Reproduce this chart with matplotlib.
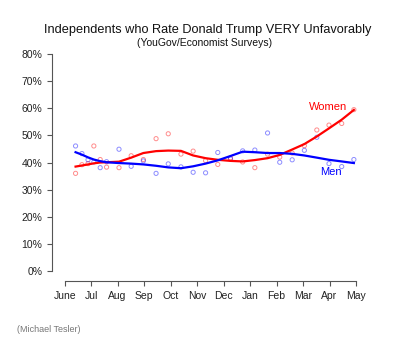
import matplotlib
matplotlib.use("Agg")
import matplotlib.pyplot as plt

plt.rcParams['font.family'] = ['Liberation Sans', 'DejaVu Sans']

months = ["June", "Jul", "Aug", "Sep", "Oct", "Nov", "Dec", "Jan", "Feb", "Mar", "Apr", "May"]

# poll dates, in months since June 1
poll_t = [0.41, 0.65, 0.88, 1.10, 1.34, 1.58, 2.05, 2.51, 2.97, 3.45, 3.91, 4.39, 4.85,
          5.32, 5.78, 6.26, 6.72, 7.18, 7.66, 8.12, 8.59, 9.05, 9.52, 9.98, 10.46, 10.92]

women = [36.0, 39.2, 39.6, 46.1, 41.1, 38.3, 38.1, 42.5, 41.1, 48.8, 50.6, 43.1, 44.2,
         40.7, 39.3, 41.7, 40.2, 38.1, 43.1, 42.0, 43.5, 46.2, 52.0, 53.8, 54.4, 59.5]
men = [46.1, 43.3, 41.0, 40.2, 38.1, 40.3, 44.9, 38.6, 40.6, 36.0, 39.5, 38.4, 36.4,
       36.2, 43.7, 41.3, 44.3, 44.6, 50.9, 40.1, 41.0, 44.5, 49.3, 39.6, 38.5, 41.1]

# smoothed trend lines
women_fit = [38.5, 38.9, 39.3, 39.7, 40.0, 40.1, 40.3, 41.8, 43.5, 44.2, 44.4, 44.3, 42.6,
             41.6, 41.0, 40.6, 40.4, 40.9, 41.6, 42.8, 44.8, 46.8, 49.6, 52.6, 55.8, 59.4]
men_fit = [43.8, 42.9, 41.9, 41.1, 40.5, 40.1, 39.8, 39.6, 39.3, 38.8, 38.2, 37.9, 38.6,
           39.6, 40.8, 42.4, 44.0, 43.8, 43.5, 43.5, 43.2, 42.6, 41.8, 41.0, 40.4, 39.8]

yticks = [0, 10, 20, 30, 40, 50, 60, 70, 80]

fig = plt.figure(figsize=(4.0, 3.46), dpi=100)
ax = fig.add_axes([52/400, 65/346, (365-52)/400, (281-50)/346])

red = "#ff0000"
blue = "#0000ff"

ax.scatter(poll_t, women, s=9, facecolors="none", edgecolors=red, linewidths=0.7, alpha=0.45, zorder=2)
ax.scatter(poll_t, men, s=9, facecolors="none", edgecolors=blue, linewidths=0.7, alpha=0.45, zorder=2)
ax.plot(poll_t, women_fit, color=red, lw=1.6, zorder=3)
ax.plot(poll_t, men_fit, color=blue, lw=1.6, zorder=3)

ax.text(9.95, 60.3, "Women", color=red, fontsize=8, ha="center", va="center")
ax.text(10.07, 36.4, "Men", color=blue, fontsize=8, ha="center", va="center")

ax.set_xlim(-0.48, 11.34)
ax.set_ylim(-3.7, 81.5)
ax.set_xticks(range(len(months)))
ax.set_xticklabels(months)
ax.set_yticks(yticks)
ax.set_yticklabels(["%d%%" % v for v in yticks])

gray = "#555555"
for side in ["top", "right"]:
    ax.spines[side].set_visible(False)
ax.spines["left"].set_bounds(0, 80)
ax.spines["bottom"].set_bounds(0, 11)
for side in ["left", "bottom"]:
    ax.spines[side].set_color(gray)
    ax.spines[side].set_linewidth(0.8)
ax.tick_params(axis="both", colors=gray, labelcolor="#222222", labelsize=7.5, length=3.5, width=0.8)

fig.text(208/400, 1-30/346, "Independents who Rate Donald Trump VERY Unfavorably",
         ha="center", va="center", fontsize=9.2, color="#111111")
fig.text(205/400, 1-43/346, "(YouGov/Economist Surveys)",
         ha="center", va="center", fontsize=7.5, color="#111111")
fig.text(17/400, 1-330/346, "(Michael Tesler)", ha="left", va="center", fontsize=6.5, color="#777777")

fig.savefig("out.png", dpi=100)
